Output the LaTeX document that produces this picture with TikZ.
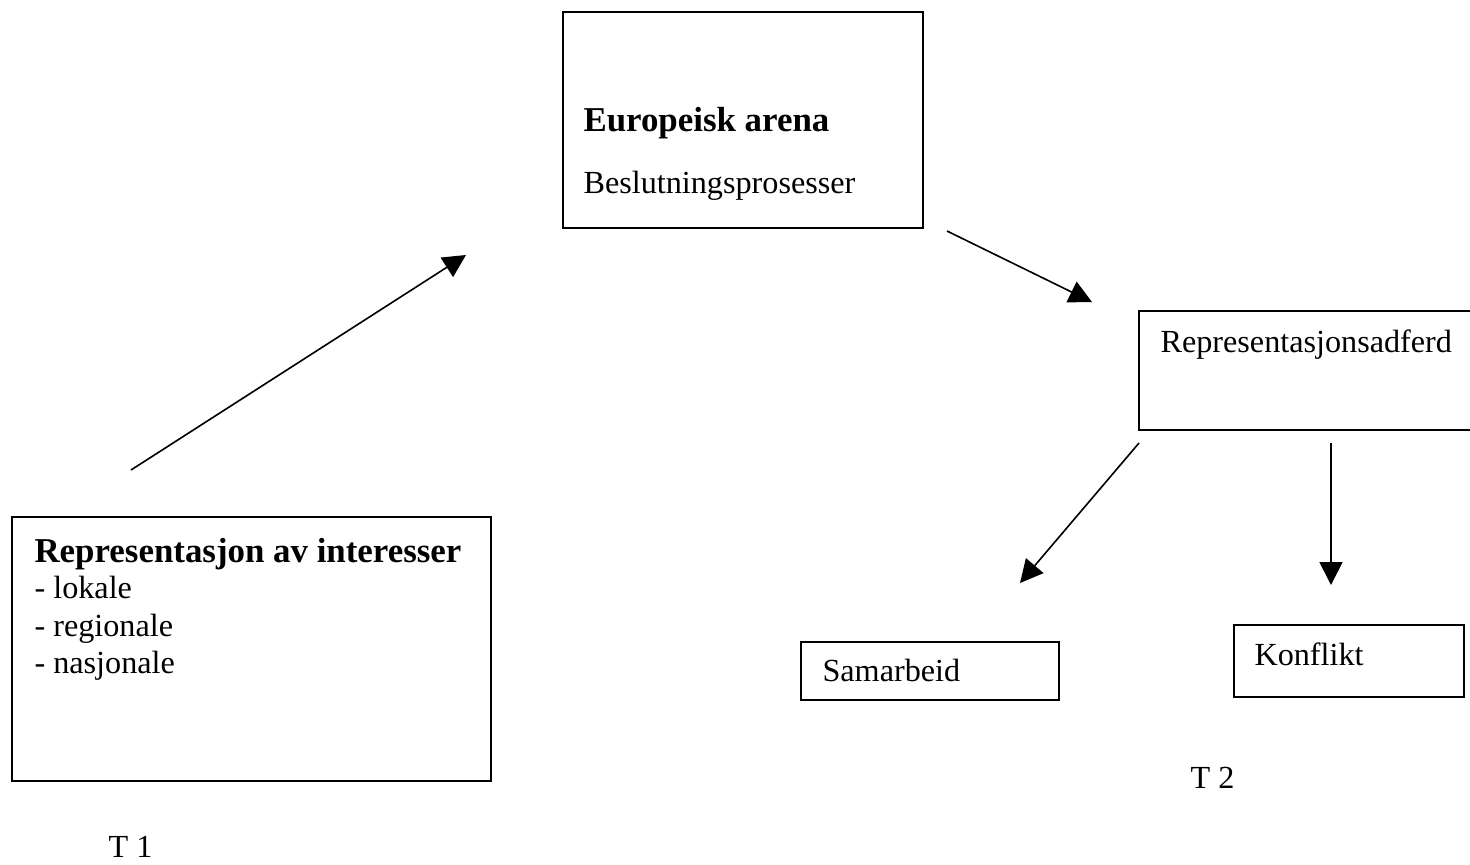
\documentclass[tikz,border=0pt]{standalone}
\usepackage{fontspec}
\setmainfont{Liberation Serif}
\usetikzlibrary{arrows.meta,fit}

\tikzset{
  box/.style={draw,line width=0.65pt,inner sep=0pt},
  lbl/.style={anchor=base west,inner sep=0pt,font=\fontsize{12}{14}\selectfont},
  head/.style={anchor=base west,inner sep=0pt,font=\fontsize{13}{15}\selectfont\bfseries},
  flow/.style={line width=0.6pt,-{Triangle[length=8.5pt,width=8.5pt]}}
}

\begin{document}
\begin{tikzpicture}[x=0.3727pt,y=-0.3727pt]
\useasboundingbox (0,0) rectangle (1470,864);
% boxes
\node[box,fit={(12,517) (491,781)}] (interests) {};
\node[box,fit={(563,12) (923,228)}] (arena) {};
\node[box,fit={(1139,311) (1480,430)}] (behaviour) {};
\node[box,fit={(801,642) (1059,700)}] (coop) {};
\node[box,fit={(1234,625) (1464,697)}] (conflict) {};
% texts
\node[head] (interestsT) at (34,562) {Representasjon av interesser};
\node[lbl] (local) at (34,598) {- lokale};
\node[lbl] (regional) at (34,636) {- regionale};
\node[lbl] (national) at (34,673) {- nasjonale};
\node[head] (arenaT) at (583,131) {Europeisk arena};
\node[lbl] (decision) at (583,193) {Beslutningsprosesser};
\node[lbl] (behaviourT) at (1160,352) {Representasjonsadferd};
\node[lbl] (coopT) at (822,681) {Samarbeid};
\node[lbl] (conflictT) at (1254,665) {Konflikt};
\node[lbl] (t1) at (108,857) {T 1};
\node[lbl] (t2) at (1190,788) {T 2};
% arrows
\coordinate (a1) at (131,470);
\coordinate (a2) at (466,255);
\coordinate (b1) at (947,231);
\coordinate (b2) at (1092,302);
\coordinate (c1) at (1139,443);
\coordinate (c2) at (1020,583);
\coordinate (d1) at (1331,443);
\coordinate (d2) at (1331,585);
\draw[flow] (a1) -- (a2);
\draw[flow] (b1) -- (b2);
\draw[flow] (c1) -- (c2);
\draw[flow] (d1) -- (d2);
\end{tikzpicture}
\end{document}
